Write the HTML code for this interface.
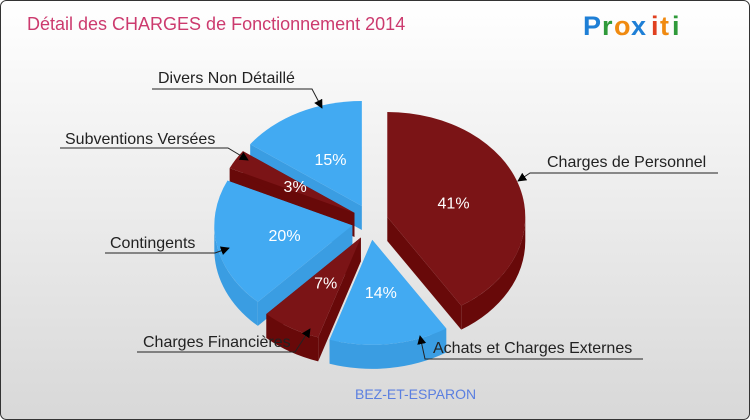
<!DOCTYPE html>
<html><head><meta charset="utf-8">
<style>
html,body{margin:0;padding:0;width:750px;height:420px;overflow:hidden;background:#fff}
svg{display:block}
text{font-family:"Liberation Sans",sans-serif}
</style></head>
<body>
<svg id="chart" width="750" height="420" viewBox="0 0 750 420">
<defs>
<linearGradient id="bg" x1="0" y1="0" x2="0" y2="1">
<stop offset="0" stop-color="#ffffff"/><stop offset="1" stop-color="#d8d8d8"/>
</linearGradient>
<marker id="arr" viewBox="0 0 10 10" refX="9" refY="5" markerWidth="9" markerHeight="9" orient="auto">
<path d="M0,0 L10,5 L0,10 z" fill="#000"/>
</marker>
</defs>
<rect x="0.5" y="0.5" width="749" height="419" rx="6" fill="url(#bg)" stroke="#333" stroke-width="1"/>
<text x="27" y="30" font-size="18" fill="#cc3a6e">Détail des CHARGES de Fonctionnement 2014</text>
<g font-size="27" font-weight="bold">
<text x="583" y="35" fill="#1e7fd6">P</text><text x="602" y="35" fill="#2f9a3a">r</text><text x="614" y="35" fill="#f08a10">o</text><text x="631" y="35" fill="#1e7fd6">x</text><text x="651" y="35" fill="#e04020">i</text><text x="660" y="35" fill="#f08a10">t</text><text x="672" y="35" fill="#2f9a3a">i</text>
</g>
<g id="pie"></g>
<g id="labels"></g>
<text x="355" y="399" font-size="14" fill="#5b7fe0">BEZ-ET-ESPARON</text>
</svg>
<script>
const categories=["Charges de Personnel","Achats et Charges Externes","Charges Financières","Contingents","Subventions Versées","Divers Non Détaillé"];
const values=[41,14,7,20,3,15];
const colorKeys=["red","blue","red","blue","red","blue"];
const labelText=["41%","14%","7%","20%","3%","15%"];

const NS="http://www.w3.org/2000/svg";
const cx=370,cy=222,rx=138,ry=105,depth=24,explode=18;
const pal={red:{top:"#7b1416",side:"#680909"},blue:{top:"#42aaf2",side:"#3a9de2"}};
const pie=document.getElementById('pie');
const total=values.reduce((a,b)=>a+b,0);
function P(a,ox,oy,dz){return [ox+rx*Math.cos(a),oy+ry*Math.sin(a)+(dz||0)];}
function mk(tag,attrs){const e=document.createElementNS(NS,tag);for(const k in attrs)e.setAttribute(k,attrs[k]);return e;}
let slices=[],a0=-Math.PI/2;
values.forEach((v,i)=>{const a1=a0+v/total*2*Math.PI;const m=(a0+a1)/2;
slices.push({i,a0,a1,m,ox:cx+explode*Math.cos(m),oy:cy+explode*Math.sin(m)});a0=a1;});
const order=slices.slice().sort((a,b)=>Math.sin(a.m)-Math.sin(b.m));
order.forEach(s=>{
  const c=pal[colorKeys[s.i]];
  const g=mk('g',{});
  
  
  [s.a0,s.a1].forEach(a=>{const p=P(a,s.ox,s.oy);
    g.appendChild(mk('path',{d:`M${s.ox},${s.oy} L${p[0]},${p[1]} L${p[0]},${p[1]+depth} L${s.ox},${s.oy+depth} Z`,fill:c.side}));});
  const lo=Math.max(s.a0,0),hi=Math.min(s.a1,Math.PI);
  let ranges=[];
  if(lo<hi)ranges.push([lo,hi]);
  if(s.a1>2*Math.PI){const l2=Math.max(s.a0,2*Math.PI),h2=Math.min(s.a1,3*Math.PI);if(l2<h2)ranges.push([l2,h2]);}
  ranges.forEach(r=>{const p0=P(r[0],s.ox,s.oy),p1=P(r[1],s.ox,s.oy);
    const lg=(r[1]-r[0])>Math.PI?1:0;
    g.appendChild(mk('path',{d:`M${p0[0]},${p0[1]} A${rx},${ry} 0 ${lg} 1 ${p1[0]},${p1[1]} L${p1[0]},${p1[1]+depth} A${rx},${ry} 0 ${lg} 0 ${p0[0]},${p0[1]+depth} Z`,fill:c.side}));});
  const p0=P(s.a0,s.ox,s.oy),p1=P(s.a1,s.ox,s.oy);const lg=(s.a1-s.a0)>Math.PI?1:0;
  g.appendChild(mk('path',{d:`M${s.ox},${s.oy} L${p0[0]},${p0[1]} A${rx},${ry} 0 ${lg} 1 ${p1[0]},${p1[1]} Z`,fill:c.top}));
  pie.appendChild(g);
});
slices.forEach(s=>{
  const r=0.5;
  const t=mk('text',{x:s.ox+rx*r*Math.cos(s.m),y:s.oy+ry*r*Math.sin(s.m)+6,'font-size':16,fill:'#fff','text-anchor':'middle'});
  
  
  t.textContent=labelText[s.i];pie.appendChild(t);
});
const callouts=[
 ["Divers Non Détaillé",158,83,152,312,89,322,108],
 ["Subventions Versées",65,144,60,228,148,248,160],
 ["Contingents",110,248,105,215,253,229,248],
 ["Charges Financières",143,347,137,295,352,310,329],
 ["Charges de Personnel",547,167,718,530,173,518,181],
 ["Achats et Charges Externes",433,353,643,425,359,420,336]
];
const lab=document.getElementById('labels');
callouts.forEach(c=>{
  const g=mk('g',{});
  
  
  const t=mk('text',{x:c[1],y:c[2],'font-size':16,fill:'#222'});t.textContent=c[0];g.appendChild(t);
  g.appendChild(mk('path',{d:`M${c[3]},${c[5]} L${c[4]},${c[5]} L${c[6]},${c[7]}`,fill:'none',stroke:'#222','stroke-width':1,'marker-end':'url(#arr)'}));
  lab.appendChild(g);
});
</script>
</body></html>
